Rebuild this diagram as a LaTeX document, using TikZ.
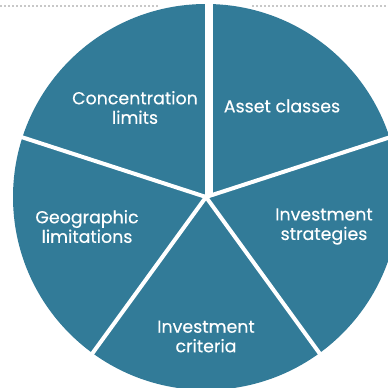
\documentclass[tikz,border=0pt]{standalone}
\usepackage{fontspec}
\setmainfont{Poppins}
\newfontfamily\lblfont{Poppins}[FakeBold=0.3]
\definecolor{pie}{HTML}{327B98}
\definecolor{dots}{HTML}{C8C8C8}
\begin{document}
\begin{tikzpicture}[x=1pt,y=-1pt,
  lbl/.style={text=white,align=center,font=\lblfont\fontsize{17.4}{19.5}\selectfont,inner sep=0pt},
  gap/.style={white,line width=4pt},
  dotline/.style={dots,line width=2pt,dash pattern=on 2pt off 2pt}]
\useasboundingbox (0,0) rectangle (388,388);
\coordinate (c) at (206,197);
\coordinate (d1) at (0,6);
\coordinate (d2) at (158,6);
\coordinate (d3) at (252,6);
\coordinate (d4) at (388,6);
\draw[dotline] (d1) -- (d2);
\draw[dotline] (d3) -- (d4);
\begin{scope}
\clip (0,0) rectangle (388,388);
\fill[pie] (c) circle[radius=193];
\coordinate (v1) at (209,197);
\coordinate (v2) at (209,0);
\draw[white,line width=8pt] (v1) -- (v2);
\draw[gap] (c) -- ++(-18:200);
\draw[gap] (c) -- ++(54:200);
\draw[gap] (c) -- ++(126:200);
\draw[gap] (c) -- ++(-162:200);
\end{scope}
\node[lbl] (conc) at (135,107.5) {Concentration\\limits};
\node[lbl] (asset) at (282,106) {Asset classes};
\node[lbl] (geo) at (87,226.5) {Geographic\\limitations};
\node[lbl] (strat) at (324,226.5) {Investment\\strategies};
\node[lbl] (crit) at (206,336.5) {Investment\\criteria};
\end{tikzpicture}
\end{document}
